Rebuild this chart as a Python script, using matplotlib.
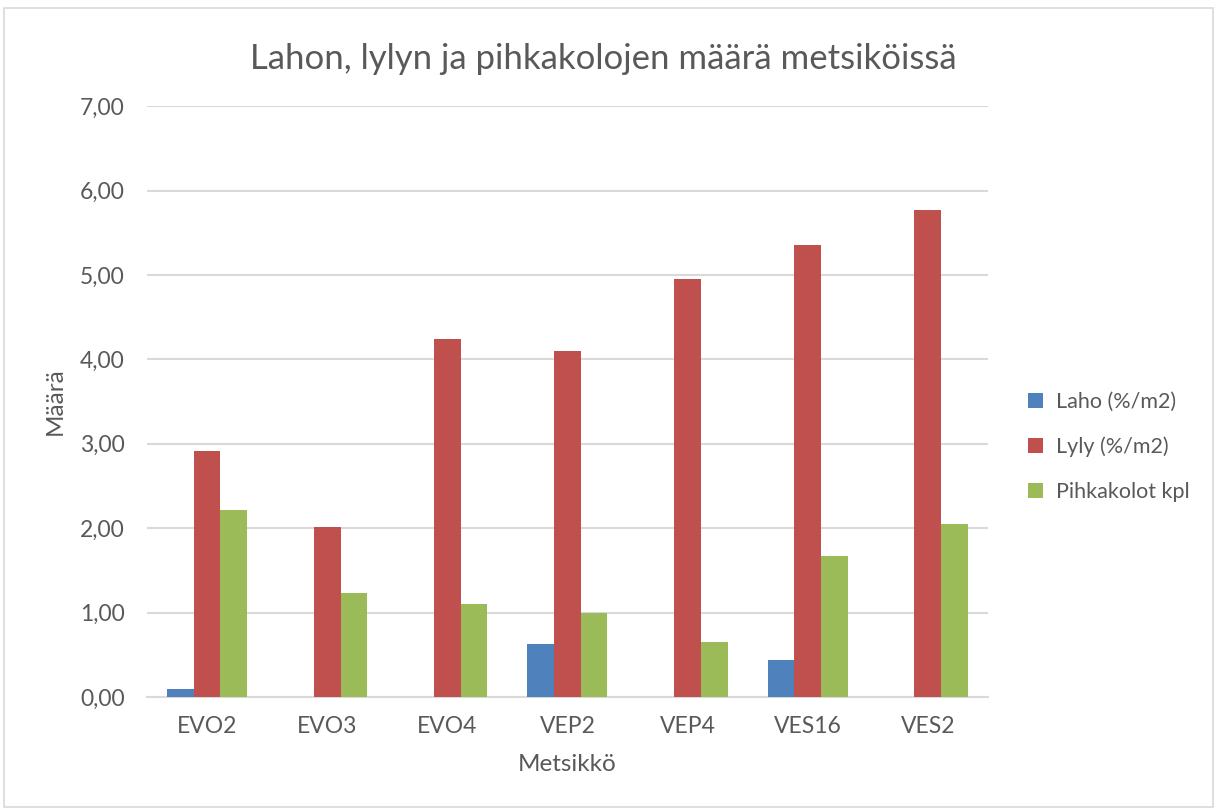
import matplotlib as mpl
mpl.use('Agg')
import matplotlib.pyplot as plt
from matplotlib.patches import Rectangle
from matplotlib.ticker import FuncFormatter, MultipleLocator
import numpy as np

sites = ["EVO2", "EVO3", "EVO4", "VEP2", "VEP4", "VES16", "VES2"]
laho = [0.10, 0.0, 0.0, 0.63, 0.0, 0.44, 0.0]
lyly = [2.92, 2.01, 4.24, 4.10, 4.95, 5.35, 5.77]
pihkakolot = [2.22, 1.23, 1.10, 1.00, 0.65, 1.67, 2.05]

series_names = ["Laho (%/m2)", "Lyly (%/m2)", "Pihkakolot kpl"]
colors = ["#4f81bd", "#c0504d", "#9bbb59"]
txt = "#595959"

plt.rcParams['font.family'] = ['Lato', 'DejaVu Sans']

fig = plt.figure(figsize=(12.18, 8.1), dpi=100)
ax = fig.add_axes([0.1207, 0.1395, 0.6903, 0.7295])

x = np.arange(len(sites))
w = 1 / 4.5
for i, (vals, name, c) in enumerate(zip([laho, lyly, pihkakolot], series_names, colors)):
    ax.bar(x + (i - 1) * w, vals, w, color=c, label=name, zorder=3)

ax.set_xlim(-0.5, len(sites) - 0.5)
ax.set_ylim(0, 7)
ax.yaxis.set_major_locator(MultipleLocator(1))
ax.yaxis.set_major_formatter(FuncFormatter(lambda v, p: f"{v:.2f}".replace(".", ",")))
ax.set_xticks(x)
ax.set_xticklabels(sites)
ax.grid(axis='y', color='#d9d9d9', linewidth=1.5, zorder=0)
for s in ['top', 'right', 'left']:
    ax.spines[s].set_visible(False)
ax.spines['bottom'].set_color('#d9d9d9')
ax.spines['bottom'].set_linewidth(1.5)
ax.tick_params(length=0, labelsize=16.5, colors=txt)
ax.tick_params(axis='x', pad=14)
ax.tick_params(axis='y', pad=16)

ax.set_xlabel("Metsikkö", fontsize=17.5, color=txt, labelpad=12)
ax.set_ylabel("Määrä", fontsize=17.5, color=txt, labelpad=10)
fig.text(0.495, 0.927, "Lahon, lylyn ja pihkakolojen määrä metsiköissä",
         ha='center', va='center', fontsize=25, color=txt)

ax.legend(loc='center left', bbox_to_anchor=(1.025, 0.423), frameon=False,
          fontsize=15.5, labelcolor=txt, handlelength=0.7, handleheight=0.7,
          labelspacing=1.15, handletextpad=0.6)

fig.patches.append(Rectangle((0.003, 0.004), 0.993, 0.986, transform=fig.transFigure,
                             fill=False, edgecolor='#d9d9d9', linewidth=1.2))

plt.savefig("out.png", dpi=100)
